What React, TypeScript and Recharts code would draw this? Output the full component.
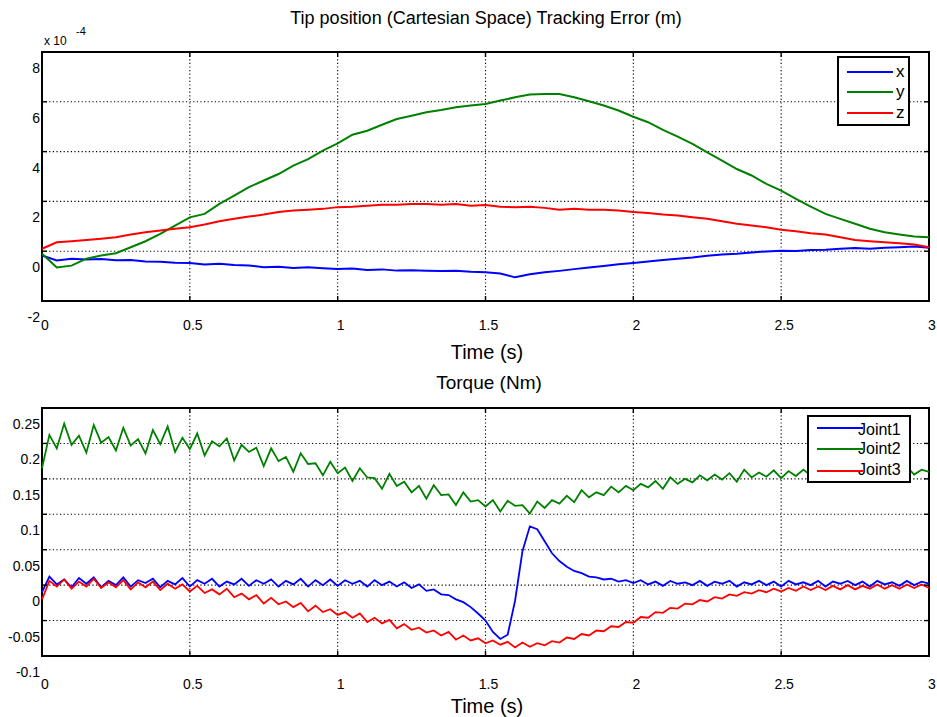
import { LineChart, Line, XAxis, YAxis, CartesianGrid, ReferenceArea } from 'recharts';

// sample times (s)
const tTop = [
  0, 0.05, 0.1, 0.15, 0.2, 0.25, 0.3, 0.35, 0.4, 0.45,
  0.5, 0.55, 0.6, 0.65, 0.7, 0.75, 0.8, 0.85, 0.9, 0.95,
  1, 1.05, 1.1, 1.15, 1.2, 1.25, 1.3, 1.35, 1.4, 1.45,
  1.5, 1.55, 1.6, 1.65, 1.7, 1.75, 1.8, 1.85, 1.9, 1.95,
  2, 2.05, 2.1, 2.15, 2.2, 2.25, 2.3, 2.35, 2.4, 2.45,
  2.5, 2.55, 2.6, 2.65, 2.7, 2.75, 2.8, 2.85, 2.9, 2.95,
  3,
];

// tracking error, units of 1e-4 m
const errX = [
  -0.17, -0.37, -0.3, -0.33, -0.31, -0.36, -0.35, -0.41, -0.42, -0.46,
  -0.47, -0.53, -0.5, -0.55, -0.57, -0.64, -0.62, -0.67, -0.64, -0.68,
  -0.71, -0.69, -0.75, -0.73, -0.78, -0.77, -0.79, -0.8, -0.79, -0.83,
  -0.85, -0.9, -1.05, -0.93, -0.85, -0.79, -0.72, -0.65, -0.59, -0.52,
  -0.47, -0.41, -0.35, -0.3, -0.25, -0.18, -0.13, -0.1, -0.05, -0.01,
  0.02, 0.01, 0.05, 0.06, 0.1, 0.13, 0.1, 0.14, 0.16, 0.19,
  0.14,
];
const errY = [
  -0.1, -0.65, -0.58, -0.3, -0.17, -0.08, 0.16, 0.4, 0.7, 1.03,
  1.36, 1.5, 1.9, 2.23, 2.57, 2.84, 3.1, 3.44, 3.7, 4.04,
  4.33, 4.68, 4.84, 5.08, 5.31, 5.44, 5.58, 5.67, 5.78, 5.85,
  5.91, 6.05, 6.18, 6.29, 6.31, 6.31, 6.18, 6.02, 5.85, 5.65,
  5.4, 5.18, 4.87, 4.6, 4.31, 3.97, 3.64, 3.3, 3.04, 2.7,
  2.43, 2.1, 1.79, 1.5, 1.3, 1.1, 0.9, 0.76, 0.67, 0.59,
  0.56,
];
const errZ = [
  0.1, 0.36, 0.4, 0.45, 0.5, 0.56, 0.67, 0.76, 0.83, 0.9,
  0.96, 1.07, 1.2, 1.3, 1.39, 1.47, 1.57, 1.63, 1.66, 1.7,
  1.77, 1.79, 1.83, 1.87, 1.87, 1.9, 1.9, 1.87, 1.9, 1.83,
  1.86, 1.79, 1.77, 1.79, 1.74, 1.66, 1.7, 1.66, 1.66, 1.63,
  1.57, 1.53, 1.47, 1.43, 1.36, 1.3, 1.2, 1.1, 1.03, 0.96,
  0.86, 0.8, 0.72, 0.67, 0.56, 0.45, 0.4, 0.36, 0.32, 0.27,
  0.16,
];

const tBot = [
  0, 0.025, 0.05, 0.075, 0.1, 0.125, 0.15, 0.175, 0.2, 0.225,
  0.25, 0.275, 0.3, 0.325, 0.35, 0.375, 0.4, 0.425, 0.45, 0.475,
  0.5, 0.525, 0.55, 0.575, 0.6, 0.625, 0.65, 0.675, 0.7, 0.725,
  0.75, 0.775, 0.8, 0.825, 0.85, 0.875, 0.9, 0.925, 0.95, 0.975,
  1, 1.025, 1.05, 1.075, 1.1, 1.125, 1.15, 1.175, 1.2, 1.225,
  1.25, 1.275, 1.3, 1.325, 1.35, 1.375, 1.4, 1.425, 1.45, 1.475,
  1.5, 1.525, 1.55, 1.575, 1.6, 1.625, 1.65, 1.675, 1.7, 1.725,
  1.75, 1.775, 1.8, 1.825, 1.85, 1.875, 1.9, 1.925, 1.95, 1.975,
  2, 2.025, 2.05, 2.075, 2.1, 2.125, 2.15, 2.175, 2.2, 2.225,
  2.25, 2.275, 2.3, 2.325, 2.35, 2.375, 2.4, 2.425, 2.45, 2.475,
  2.5, 2.525, 2.55, 2.575, 2.6, 2.625, 2.65, 2.675, 2.7, 2.725,
  2.75, 2.775, 2.8, 2.825, 2.85, 2.875, 2.9, 2.925, 2.95, 2.975,
  3,
];

// torque, Nm
const joint1 = [
  -0.01, 0.012, 0.001, 0.008, -0.003, 0.01, 0.002, 0.011, -0.003, 0.006,
  0.0, 0.011, -0.002, 0.007, 0.003, 0.009, -0.003, 0.006, 0.001, 0.01,
  -0.002, 0.007, 0.002, 0.009, -0.002, 0.005, 0.001, 0.009, -0.001, 0.007,
  0.002, 0.008, -0.002, 0.006, 0.001, 0.009, -0.002, 0.007, 0.0, 0.008,
  -0.001, 0.007, 0.002, 0.006, -0.002, 0.007, 0.0, 0.005, -0.002, 0.004,
  -0.004, 0.001, -0.008, -0.006, -0.013, -0.014, -0.02, -0.024, -0.031, -0.04,
  -0.05, -0.066, -0.076, -0.07, -0.022, 0.048, 0.083, 0.079, 0.062, 0.045,
  0.034, 0.026, 0.02, 0.017, 0.012, 0.011, 0.008, 0.009, 0.005, 0.007,
  0.003, 0.007, 0.001, 0.005, -0.001, 0.006, 0.002, 0.004, 0.0, 0.006,
  -0.001, 0.005, 0.002, 0.006, -0.002, 0.004, 0.001, 0.006, 0.0, 0.005,
  -0.002, 0.006, 0.001, 0.004, 0.0, 0.006, -0.002, 0.005, 0.002, 0.006,
  0.0, 0.005, -0.002, 0.006, 0.001, 0.004, -0.001, 0.006, 0.0, 0.005,
  0.002,
];
const joint2 = [
  0.165, 0.212, 0.193, 0.228, 0.198, 0.211, 0.187, 0.226, 0.201, 0.209,
  0.19, 0.222, 0.197, 0.206, 0.186, 0.219, 0.199, 0.224, 0.188, 0.208,
  0.192, 0.214, 0.183, 0.203, 0.196, 0.207, 0.176, 0.198, 0.188, 0.194,
  0.168, 0.193, 0.175, 0.181, 0.16, 0.186, 0.171, 0.172, 0.155, 0.174,
  0.158, 0.166, 0.147, 0.165, 0.152, 0.151, 0.136, 0.157, 0.14, 0.146,
  0.131, 0.14, 0.122, 0.141, 0.127, 0.128, 0.113, 0.131, 0.118, 0.12,
  0.111, 0.12, 0.104, 0.119, 0.112, 0.113, 0.101, 0.118, 0.109, 0.12,
  0.115, 0.126, 0.117, 0.134, 0.124, 0.131, 0.127, 0.139, 0.131, 0.14,
  0.134, 0.143, 0.138, 0.147, 0.136, 0.152, 0.143, 0.15, 0.145, 0.155,
  0.148, 0.156, 0.149, 0.158, 0.146, 0.163, 0.152, 0.159, 0.153, 0.162,
  0.151, 0.161, 0.154, 0.163, 0.155, 0.162, 0.156, 0.166, 0.154, 0.164,
  0.157, 0.165, 0.155, 0.168, 0.158, 0.163, 0.155, 0.167, 0.156, 0.163,
  0.16,
];
const joint3 = [
  -0.02, 0.006, -0.002, 0.008, -0.005, 0.005, -0.002, 0.009, -0.004, 0.004,
  -0.003, 0.007, -0.006, 0.004, -0.003, 0.005, -0.007, 0.002, -0.005, 0.001,
  -0.009, -0.001, -0.011, -0.006, -0.013, -0.005, -0.017, -0.012, -0.02, -0.014,
  -0.026, -0.018, -0.027, -0.023, -0.031, -0.025, -0.037, -0.029, -0.038, -0.034,
  -0.042, -0.038, -0.046, -0.04, -0.052, -0.046, -0.054, -0.049, -0.061, -0.055,
  -0.063, -0.06, -0.067, -0.064, -0.071, -0.066, -0.077, -0.071, -0.078, -0.075,
  -0.082, -0.078, -0.084, -0.08, -0.088, -0.081, -0.087, -0.082, -0.085, -0.079,
  -0.081, -0.074, -0.076, -0.069, -0.071, -0.064, -0.065, -0.058, -0.059, -0.052,
  -0.053, -0.045, -0.046, -0.038, -0.039, -0.032, -0.033, -0.026, -0.027, -0.021,
  -0.023, -0.017, -0.019, -0.013, -0.015, -0.01, -0.012, -0.007, -0.01, -0.005,
  -0.009, -0.004, -0.008, -0.002, -0.007, -0.002, -0.007, -0.001, -0.006, 0.0,
  -0.006, -0.001, -0.005, 0.001, -0.005, 0.0, -0.005, 0.001, -0.004, 0.001,
  -0.004,
];

const timeTicks = [0, 0.5, 1, 1.5, 2, 2.5, 3];
const errTicks = [-2, 0, 2, 4, 6, 8];
const torqueTicks = [-0.1, -0.05, 0, 0.05, 0.1, 0.15, 0.2, 0.25];

const errRows = tTop.map((t, i) => ({ t, x: errX[i], y: errY[i], z: errZ[i] }));
const torqueRows = tBot.map((t, i) => ({ t, j1: joint1[i], j2: joint2[i], j3: joint3[i] }));

const BLUE = '#0000ff';
const GREEN = '#008000';
const RED = '#ff0000';
const FONT = '"Liberation Sans", Arial, Helvetica, sans-serif';

// plot box geometry (both panels share the same horizontal extent)
const PLOT_L = 42;
const PLOT_W = 887;

// matlab export puts the y labels ~16px below their ticks, keep that
const makeYTick = () => (props: any) => {
  const { y, payload } = props;
  return (
    <g>
      <line x1={PLOT_L} x2={PLOT_L + 5} y1={y} y2={y} stroke="#000" strokeWidth={1.4} />
      <line x1={PLOT_L + PLOT_W - 5} x2={PLOT_L + PLOT_W} y1={y} y2={y} stroke="#000" strokeWidth={1.4} />
      <text x={PLOT_L - 2} y={y + 16} textAnchor="end" dominantBaseline="central" fontSize={14} fill="#000">
        {payload.value}
      </text>
    </g>
  );
};

const makeXTick = (plotTop: number, plotBottom: number, dy: number) => (props: any) => {
  const { x, payload } = props;
  return (
    <g>
      <line x1={x} x2={x} y1={plotBottom - 5} y2={plotBottom} stroke="#000" strokeWidth={1.4} />
      <line x1={x} x2={x} y1={plotTop} y2={plotTop + 5} stroke="#000" strokeWidth={1.4} />
      <text x={x + 3} y={plotBottom + dy} textAnchor="middle" dominantBaseline="central" fontSize={14} fill="#000">
        {payload.value}
      </text>
    </g>
  );
};

interface LegendItem { label: string; color: string; lineY: number; textY: number }

function BoxLegend({ left, top, width, height, items, lineX1, lineX2, textX, fontSize }: {
  left: number; top: number; width: number; height: number; items: LegendItem[];
  lineX1: number; lineX2: number; textX: number; fontSize: number;
}) {
  return (
    <div style={{ position: 'absolute', left, top, width, height, boxSizing: 'border-box', border: '2px solid #000', background: '#fff' }}>
      {items.map(it => (
        <div key={it.label}>
          <div style={{ position: 'absolute', left: lineX1, top: it.lineY - 1, width: lineX2 - lineX1, height: 2, background: it.color }} />
          <div style={{ position: 'absolute', left: textX, top: it.textY - 9, lineHeight: '18px', fontSize }}>{it.label}</div>
        </div>
      ))}
    </div>
  );
}

const label = (text: string, cx: number, cy: number, size: number) => (
  <div style={{ position: 'absolute', left: cx - 300, top: cy - 12, width: 600, lineHeight: '24px', textAlign: 'center', fontSize: size }}>
    {text}
  </div>
);

export default function App() {
  return (
    <div style={{ position: 'absolute', left: 0, top: 0, width: 937, height: 717, background: '#fff', fontFamily: FONT, color: '#000' }}>
      <div style={{ position: 'absolute', left: 0, top: 0 }}>
        <LineChart width={937} height={360} data={errRows} margin={{ top: 52, right: 8, left: 0, bottom: 0 }}>
          <CartesianGrid stroke="#000" strokeWidth={1.1} strokeDasharray="1.2 2.4" />
          <XAxis dataKey="t" type="number" domain={[0, 3]} ticks={timeTicks} height={59} axisLine={false} tickLine={false}
            tickSize={0} interval={0} tick={makeXTick(52, 301, 24)} />
          <YAxis type="number" domain={[-2, 8]} ticks={errTicks} width={42} axisLine={false} tickLine={false}
            tickSize={0} interval={0} tick={makeYTick()} />
          <Line dataKey="x" stroke={BLUE} strokeWidth={2} dot={false} activeDot={false} isAnimationActive={false} />
          <Line dataKey="y" stroke={GREEN} strokeWidth={2} dot={false} activeDot={false} isAnimationActive={false} />
          <Line dataKey="z" stroke={RED} strokeWidth={2} dot={false} activeDot={false} isAnimationActive={false} />
          <ReferenceArea x1={0} x2={3} y1={-2} y2={8} fill="none" stroke="#000" strokeWidth={2} />
        </LineChart>
      </div>
      <div style={{ position: 'absolute', left: 0, top: 360 }}>
        <LineChart width={937} height={357} data={torqueRows} margin={{ top: 48, right: 8, left: 0, bottom: 0 }}>
          <CartesianGrid stroke="#000" strokeWidth={1.1} strokeDasharray="1.2 2.4" />
          <XAxis dataKey="t" type="number" domain={[0, 3]} ticks={timeTicks} height={61} axisLine={false} tickLine={false}
            tickSize={0} interval={0} tick={makeXTick(48, 296, 28)} />
          <YAxis type="number" domain={[-0.1, 0.25]} ticks={torqueTicks} width={42} axisLine={false} tickLine={false}
            tickSize={0} interval={0} tick={makeYTick()} />
          <Line dataKey="j1" stroke={BLUE} strokeWidth={1.8} dot={false} activeDot={false} isAnimationActive={false} />
          <Line dataKey="j2" stroke={GREEN} strokeWidth={1.8} dot={false} activeDot={false} isAnimationActive={false} />
          <Line dataKey="j3" stroke={RED} strokeWidth={1.8} dot={false} activeDot={false} isAnimationActive={false} />
          <ReferenceArea x1={0} x2={3} y1={-0.1} y2={0.25} fill="none" stroke="#000" strokeWidth={2} />
        </LineChart>
      </div>

      {label('Tip position (Cartesian Space) Tracking Error (m)', 486, 18, 18)}
      {label('Time (s)', 487, 352, 20)}
      {label('Torque (Nm)', 489, 383, 19)}
      {label('Time (s)', 487, 706, 20)}

      <div style={{ position: 'absolute', left: 44, top: 34, fontSize: 12, lineHeight: '14px' }}>x 10</div>
      <div style={{ position: 'absolute', left: 76, top: 25, fontSize: 11, lineHeight: '12px' }}>-4</div>

      <BoxLegend left={837} top={56} width={73} height={70} lineX1={8} lineX2={54} textX={57} fontSize={17}
        items={[
          { label: 'x', color: BLUE, lineY: 14, textY: 14 },
          { label: 'y', color: GREEN, lineY: 34, textY: 34 },
          { label: 'z', color: RED, lineY: 55, textY: 55 },
        ]} />
      <BoxLegend left={807} top={415} width={104} height={68} lineX1={8} lineX2={54} textX={49} fontSize={16}
        items={[
          { label: 'Joint1', color: BLUE, lineY: 11, textY: 13 },
          { label: 'Joint2', color: GREEN, lineY: 32, textY: 32 },
          { label: 'Joint3', color: RED, lineY: 54, textY: 53 },
        ]} />
    </div>
  );
}
